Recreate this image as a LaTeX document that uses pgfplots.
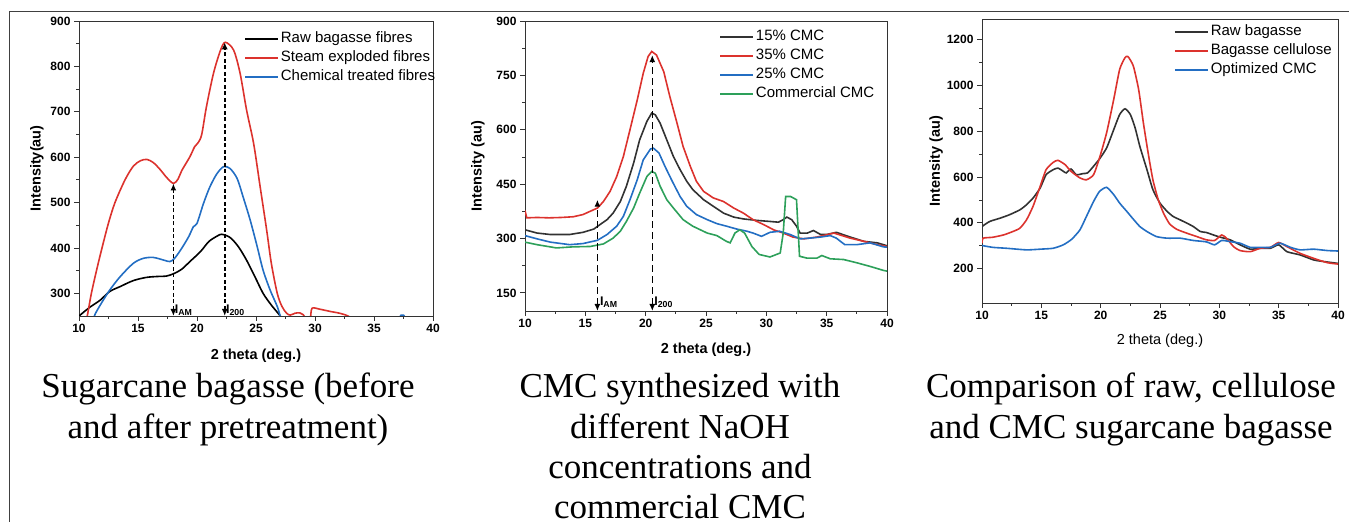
\documentclass[border=0pt]{standalone}
\usepackage{fontspec}
\setmainfont{Liberation Sans}
\newfontfamily\capfont{Liberation Serif}
\usepackage{pgfplots}
\pgfplotsset{compat=1.18}
\usetikzlibrary{arrows.meta}
\definecolor{cred}{RGB}{220,50,45}
\definecolor{cblue}{RGB}{35,110,195}
\definecolor{cgreen}{RGB}{45,160,90}
\definecolor{cgray}{RGB}{50,50,50}
\pgfplotsset{
 panel/.style={
  scale only axis, anchor=south west,
  xmin=10,xmax=40, xtick={10,15,...,40}, minor x tick num=1,
  tick align=outside, tick pos=left,
  major tick length=5pt, minor tick length=3pt,
  axis line style={line width=0.8pt, black!80},
  every tick/.style={black!80, line width=0.8pt},
  tick label style={font=\fontsize{12}{14}\selectfont\bfseries},
  /pgf/number format/assume math mode=true,
  /pgf/number format/1000 sep={},
  label style={font=\fontsize{14.5}{16}\selectfont\bfseries},
  legend style={draw=none, fill=none, anchor=north west, font=\fontsize{15}{17}\selectfont, row sep=3.5pt, inner sep=0pt, column sep=1pt,
     nodes={inner sep=1pt, text height=10.5pt, text depth=3pt}},
  legend cell align=left,
  legend image code/.code={\draw[line width=1.7pt,##1] (0pt,0pt) -- (33pt,0pt);},
  every axis plot/.append style={line width=1.6pt},
 },
 arr/.style={black, line width=1.6pt, {Latex[length=7pt,width=6pt]}-{Latex[length=7pt,width=6pt]}, forget plot},
}
\begin{document}
\begin{tikzpicture}
\path[use as bounding box] (0pt,0pt) rectangle (1349pt,522pt);
\draw[line width=0.9pt, black!75] (1349pt,511pt) -- (9pt,511pt) -- (9pt,0pt);

% ---------------- Panel 1
\begin{axis}[panel, at={(79pt,206pt)}, width=354pt, height=295pt,
  ymin=250, ymax=900, ytick={300,400,...,900}, minor y tick num=1,
  xlabel={2 theta (deg.)}, ylabel={Intensity(au)},
  xlabel style={at={(axis description cs:0.5,-0.1356)}, anchor=center},
  ylabel style={at={(axis description cs:-0.119,0.5)}, anchor=center},
  legend style={at={(0.466,0.966)}}]
\addplot[black, smooth, tension=0.5] coordinates {(10,250)(10.9,269)(11.8,285)(12.6,304)(13.5,315)(14.6,328)(15.7,335)(16.6,337)(17.4,338)(18.0,343)(18.7,353)(19.4,370)(20.3,392)(21.0,414)(21.7,426)(22.1,430)(22.8,423)(23.5,403)(24.2,373)(24.9,337)(25.6,300)(26.3,274)(27.0,252)(27.3,240)};
\addlegendentry{Raw bagasse fibres}
\addplot[cred, smooth, tension=0.5] coordinates {(10.3,200)(10.7,250)(11.05,300)(11.5,352)(11.95,400)(12.5,455)(13.05,500)(13.9,550)(14.6,580)(15.2,592)(15.75,595)(16.3,588)(16.9,572)(17.4,556)(18.0,542)(18.4,552)(18.7,570)(19.4,601)(19.8,623)(20.1,632)(20.4,650)(20.8,711)(21.4,785)(22.0,836)(22.4,853)(23.1,836)(23.65,785)(24.2,704)(24.8,630)(25.35,535)(25.9,440)(26.3,366)(26.8,300)(27.2,271)(27.6,256)(27.9,252)(28.3,256)(28.7,257)(29.0,253)(29.3,240)(29.6,245)(29.75,267)(30.4,265)(31.3,260)(32.1,256)(32.8,250)(33.3,240)};
\addlegendentry{Steam exploded fibres}
\addplot[cblue, smooth, tension=0.5] coordinates {(11.0,220)(11.3,250)(11.8,274)(12.6,307)(13.5,337)(14.6,366)(15.45,377)(16.3,379)(17.2,373)(17.7,370)(18.1,377)(18.7,399)(19.3,425)(19.7,447)(20.0,454)(20.55,498)(21.1,535)(21.7,564)(22.25,579)(22.8,575)(23.4,553)(23.9,513)(24.5,462)(25.1,403)(25.6,351)(26.2,307)(26.8,271)(27.05,250)(27.3,230)};
\addlegendentry{Chemical treated fibres}
\addplot[cblue, forget plot] coordinates {(37.1,245)(37.3,252)(37.5,252)(37.7,245)};
\addplot[arr, dash pattern=on 4pt off 2.5pt] coordinates {(18,250)(18,542)};
\addplot[arr, dash pattern=on 4pt off 2.5pt] coordinates {(22.35,250)(22.35,853)};
\node[anchor=west, font=\bfseries\fontsize{12.5}{14}\selectfont, inner sep=0pt] at (axis cs:18.1,263) {I\textsubscript{AM}};
\node[anchor=west, font=\bfseries\fontsize{12.5}{14}\selectfont, inner sep=0pt] at (axis cs:22.45,263) {I\textsubscript{200}};
\end{axis}

% ---------------- Panel 2
\begin{axis}[panel, at={(525pt,211pt)}, width=362pt, height=290pt,
  ymin=100, ymax=900, ytick={150,300,...,900}, minor y tick num=1,
  xlabel={2 theta (deg.)}, ylabel={Intensity (au)},
  xlabel style={at={(axis description cs:0.5,-0.1345)}, anchor=center},
  ylabel style={at={(axis description cs:-0.130,0.5)}, anchor=center},
  legend style={at={(0.536,0.972)}}]
\addplot[cgray] coordinates {(10,324)(11.0,315)(12.1,311)(13.7,311)(14.8,317)(15.7,326)(16.2,338)(16.8,352)(17.3,370)(17.9,402)(18.4,444)(19.0,508)(19.5,572)(20.1,623)(20.5,646)(20.8,641)(21.2,618)(21.75,572)(22.3,526)(22.85,490)(23.4,458)(23.9,435)(24.8,407)(25.6,389)(26.45,370)(27.3,359)(28.1,354)(29.2,350)(30.3,347)(31.0,345)(31.4,352)(31.7,359)(32.1,352)(32.5,334)(32.8,315)(33.4,315)(33.9,322)(34.5,311)(35.0,311)(35.8,317)(36.95,304)(38.1,292)(39.2,288)(39.7,283)(40,280)};
\addlegendentry{15\% CMC}
\addplot[cred] coordinates {(10,377)(10.15,357)(11,358)(12,357)(13,358)(14,360)(14.8,366)(16.0,384)(16.5,402)(17.05,430)(17.6,471)(18.15,526)(18.7,600)(19.3,682)(19.8,756)(20.2,802)(20.5,816)(20.9,806)(21.5,760)(22.0,692)(22.6,618)(23.1,554)(23.7,499)(24.2,458)(24.8,430)(25.6,412)(26.45,402)(27.3,384)(28.1,370)(28.9,352)(29.8,338)(30.6,324)(31.4,315)(32.2,304)(33.1,299)(34.2,304)(35.6,315)(36.95,301)(38.1,292)(39.2,283)(40,278)};
\addlegendentry{35\% CMC}
\addplot[cblue] coordinates {(10,308)(11.0,299)(12.1,290)(13.7,283)(14.8,286)(16.0,295)(16.8,311)(17.6,334)(18.15,361)(18.7,407)(19.3,462)(19.8,517)(20.4,547)(20.65,549)(21.1,536)(21.6,499)(22.2,458)(22.85,416)(23.4,389)(24.2,366)(25.1,352)(25.9,341)(26.7,334)(27.55,326)(28.4,320)(28.9,315)(29.6,306)(30.3,317)(31.1,320)(31.97,311)(32.8,299)(33.6,301)(34.5,304)(35.3,308)(35.8,301)(36.5,283)(37.5,283)(38.6,288)(39.7,277)(40,276)};
\addlegendentry{25\% CMC}
\addplot[cgreen] coordinates {(10,290)(11.0,283)(12.6,274)(14.0,277)(15.4,278)(16.5,285)(17.3,301)(17.9,320)(18.4,347)(19.0,384)(19.5,425)(20.1,471)(20.5,485)(20.8,480)(21.2,444)(21.75,407)(22.3,384)(23.1,352)(23.9,334)(25.1,315)(25.9,308)(26.7,292)(27.0,288)(27.4,315)(27.8,324)(28.2,315)(28.8,278)(29.4,256)(30.3,249)(31.15,260)(31.4,315)(31.6,416)(32.0,416)(32.5,407)(32.75,251)(33.35,246)(34.2,246)(34.6,253)(35.3,244)(36.4,242)(37.5,233)(38.6,223)(39.7,212)(40,210)};
\addlegendentry{Commercial CMC}
\addplot[arr, dash pattern=on 7pt off 4pt] coordinates {(16,100)(16,407)};
\addplot[arr, dash pattern=on 7pt off 4pt] coordinates {(20.55,100)(20.55,806)};
\node[anchor=west, font=\bfseries\fontsize{12.5}{14}\selectfont, inner sep=0pt] at (axis cs:16.2,125) {I\textsubscript{AM}};
\node[anchor=west, font=\bfseries\fontsize{12.5}{14}\selectfont, inner sep=0pt] at (axis cs:20.7,125) {I\textsubscript{200}};
\end{axis}

% ---------------- Panel 3
\begin{axis}[panel, at={(982pt,219pt)}, width=356pt, height=284pt,
  ymin=50, ymax=1290, ytick={200,400,...,1200}, minor y tick num=1,
  xlabel={2 theta (deg.)}, ylabel={Intensity (au)},
  xlabel style={at={(axis description cs:0.5,-0.134)}, anchor=center, font=\fontsize{14.5}{16}\selectfont\mdseries},
  ylabel style={at={(axis description cs:-0.129,0.5)}, anchor=center},
  legend style={at={(0.539,0.982)}}]
\addplot[cgray, smooth, tension=0.35] coordinates {(10,384)(10.65,406)(11.5,420)(12.3,435)(13.2,457)(13.75,479)(14.3,508)(14.9,552)(15.4,610)(16.0,632)(16.4,639)(16.85,625)(17.1,618)(17.5,635)(17.95,610)(18.5,615)(18.9,618)(19.4,647)(19.9,679)(20.5,727)(21.1,807)(21.6,873)(22.05,898)(22.5,873)(22.9,815)(23.3,734)(23.9,632)(24.4,545)(25.0,486)(25.6,450)(26.1,428)(26.7,413)(27.25,399)(27.8,384)(28.4,362)(28.9,358)(29.5,347)(30.1,337)(30.9,326)(31.75,304)(32.6,285)(33.4,289)(34.3,289)(35.0,304)(35.7,274)(36.8,260)(37.95,238)(38.8,231)(40,223)};
\addlegendentry{Raw bagasse}
\addplot[cred, smooth, tension=0.35] coordinates {(10,311)(10.1,333)(10.9,337)(11.8,347)(12.6,362)(13.2,377)(13.75,413)(14.3,472)(14.9,559)(15.4,632)(16.0,664)(16.4,673)(17.0,654)(17.5,625)(18.25,596)(18.8,588)(19.4,610)(19.9,683)(20.5,793)(21.1,939)(21.6,1070)(22.05,1121)(22.3,1126)(22.75,1085)(23.2,982)(23.6,836)(24.0,705)(24.4,588)(24.85,501)(25.3,442)(25.8,396)(26.4,372)(27.25,355)(28.1,340)(28.9,326)(29.6,323)(30.2,347)(30.6,333)(31.2,296)(31.75,279)(32.6,274)(33.45,289)(34.3,293)(35.0,314)(35.7,296)(36.8,267)(37.95,245)(39.1,226)(40,220)};
\addlegendentry{Bagasse cellulose}
\addplot[cblue, smooth, tension=0.35] coordinates {(10,301)(10.9,293)(12.05,289)(13.75,282)(14.9,285)(16.0,289)(16.85,304)(17.55,328)(18.25,369)(18.8,428)(19.4,493)(19.9,537)(20.5,555)(21.1,523)(21.6,486)(22.2,450)(22.75,416)(23.3,384)(23.9,362)(24.7,340)(25.6,333)(26.7,333)(27.8,323)(28.9,317)(29.6,304)(30.2,323)(30.9,318)(31.75,311)(32.6,293)(33.45,293)(34.3,293)(35.1,311)(36.0,293)(36.8,282)(37.95,285)(39.1,279)(40,277)};
\addlegendentry{Optimized CMC}
\end{axis}

% ---------------- Captions
\begin{scope}[every node/.style={font=\capfont\fontsize{35}{40}\selectfont, anchor=base, inner sep=0pt}]
\node at (228pt,124pt) {Sugarcane bagasse (before};
\node at (228pt,83.5pt) {and after pretreatment)};
\node at (680pt,124pt) {CMC synthesized with};
\node at (680pt,83.5pt) {different NaOH};
\node at (680pt,43pt) {concentrations and};
\node at (680pt,4pt) {commercial CMC};
\node at (1131pt,124pt) {Comparison of raw, cellulose};
\node at (1131pt,83.5pt) {and CMC sugarcane bagasse};
\end{scope}
\end{tikzpicture}
\end{document}
